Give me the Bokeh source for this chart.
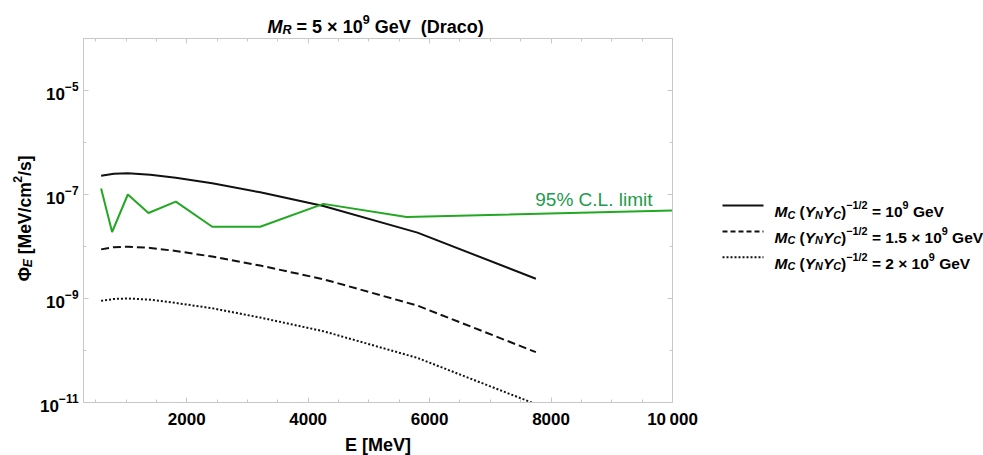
import math
from bokeh.plotting import figure
from bokeh.layouts import row, column
from bokeh.models import Label, FixedTicker, LogAxis, LinearAxis, Range1d
from bokeh.core.properties import value
from bokeh.embed import file_html
from bokeh.resources import INLINE

# ---------------- data ----------------
E_model = [590, 800, 1030, 1400, 1820, 2420, 3210, 4250, 5800, 7750]
flux_mc_1e9 = [2.3e-7, 2.5e-7, 2.55e-7, 2.4e-7, 2.1e-7, 1.65e-7, 1.1e-7, 6.0e-8, 1.85e-8, 2.4e-9]
flux_mc_15e9 = [8.8e-9, 9.7e-9, 9.9e-9, 9.4e-9, 8.2e-9, 6.4e-9, 4.3e-9, 2.35e-9, 7.3e-10, 9.3e-11]
flux_mc_2e9 = [9.0e-10, 9.8e-10, 1.0e-9, 9.5e-10, 8.2e-10, 6.5e-10, 4.3e-10, 2.35e-10, 7.2e-11, 9.3e-12]

E_limit = [590, 771, 1030, 1370, 1820, 2420, 3210, 4250, 5620, 10000]
flux_limit = [1.3e-7, 1.9e-8, 1.0e-7, 4.4e-8, 7.3e-8, 2.4e-8, 2.4e-8, 6.6e-8, 3.7e-8, 4.9e-8]

x_major = [2000, 4000, 6000, 8000, 10000]
x_major_labels = ["2000", "4000", "6000", "8000", "10\u2009000"]
x_minor = [500, 1000, 1500, 2500, 3000, 3500, 4500, 5000, 5500, 6500, 7000, 7500, 8500, 9000, 9500]
y_major = [1e-11, 1e-9, 1e-7, 1e-5]
y_minor = [1e-10, 1e-8, 1e-6, 1e-4]

legend_values = ["10", "1.5 \u00d7 10", "2 \u00d7 10"]

# ---------------- layout constants ----------------
TOTAL_W, TOTAL_H = 983, 455
TITLE_H = 37
YLAB_W = 36
LEG_W = 283
FL, FT, FW, FH = 83, 38, 589, 364          # frame in canvas pixels
FB = FT + FH
MAIN_W = TOTAL_W - YLAB_W - LEG_W
MAIN_H = TOTAL_H - TITLE_H
BORDER_TOP = FT - TITLE_H
BORDER_BOTTOM = TOTAL_H - FB
FONT = "Liberation Sans"
FRAME = "#c8c8c8"
BLACK = "#111111"
GREEN_LINE = "#22a822"
GREEN_TEXT = "#1f9a4c"

# ---------------- main plot ----------------
p = figure(frame_width=FW, frame_height=FH, output_backend="svg", toolbar_location=None,
           x_range=Range1d(300, 10000), y_range=Range1d(1e-11, 1e-4),
           y_axis_type="log", x_axis_type=None,
           min_border_left=FL - YLAB_W, min_border_top=BORDER_TOP,
           min_border_right=MAIN_W - (FL - YLAB_W) - FW,
           min_border_bottom=BORDER_BOTTOM)
p.grid.visible = False
p.outline_line_color = FRAME
p.background_fill_color = "white"
p.border_fill_color = "white"

xb = LinearAxis(ticker=FixedTicker(ticks=x_major, minor_ticks=x_minor))
xb.major_label_overrides = {v: s for v, s in zip(x_major, x_major_labels)}
xb.axis_label = "E [MeV]"
p.add_layout(xb, "below")
xt = LinearAxis(ticker=FixedTicker(ticks=x_major, minor_ticks=x_minor))
p.add_layout(xt, "above")
yl = p.yaxis[0]
yl.ticker = FixedTicker(ticks=y_major, minor_ticks=y_minor)
yr = LogAxis(ticker=FixedTicker(ticks=y_major, minor_ticks=y_minor))
p.add_layout(yr, "right")

for ax in [xb, xt, yl, yr]:
    ax.axis_line_color = FRAME
    ax.major_tick_line_color = FRAME
    ax.minor_tick_line_color = FRAME
    ax.major_tick_in = 5
    ax.major_tick_out = 0
    ax.minor_tick_in = 3
    ax.minor_tick_out = 0
    ax.major_label_text_font = FONT
    ax.major_label_text_font_style = "bold"
    ax.major_label_text_color = "black"
    ax.major_label_text_font_size = "17px"
for ax in [xt, yr]:
    ax.major_label_text_color = None
    ax.major_label_text_font_size = "1px"
    ax.major_label_standoff = 0
xb.major_label_standoff = 7
yl.major_label_standoff = 5
xb.axis_label_text_font = FONT
xb.axis_label_text_font_style = "bold"
xb.axis_label_text_font_size = "18px"
xb.axis_label_text_color = "black"
xb.axis_label_standoff = 3

p.line(E_model, flux_mc_1e9, line_color=BLACK, line_width=2)
p.line(E_model, flux_mc_15e9, line_color=BLACK, line_width=2, line_dash="8 4")
p.line(E_model, flux_mc_2e9, line_color=BLACK, line_width=2, line_dash="2 2")
p.line(E_limit, flux_limit, line_color=GREEN_LINE, line_width=2)

p.add_layout(Label(x=652 - FL, y=FB - 199, x_units="screen", y_units="screen",
                   text="95% C.L. limit", text_font=FONT, text_font_size="19px",
                   text_color=GREEN_TEXT, text_align="right", text_baseline="alphabetic"))


# ---------------- helper figures whose data space equals canvas pixels ----------------
def pixel_fig(x0, w, h, y_top, y_bottom, b_top, b_bottom):
    f = figure(width=w, height=h, x_range=Range1d(x0, x0 + w), y_range=Range1d(y_bottom, y_top),
               x_axis_type=None, y_axis_type=None, toolbar_location=None,
               min_border_left=0, min_border_right=0, min_border_top=b_top,
               min_border_bottom=b_bottom, output_backend="svg")
    f.outline_line_color = None
    f.background_fill_color = "white"
    f.border_fill_color = "white"
    return f


W = {" ": 278, "(": 333, ")": 333, "[": 333, "]": 333, "/": 278, ".": 278, "%": 889,
     "=": 584, "\u00d7": 584, "\u2212": 584, "-": 333, "M": 833, "C": 722, "Y": 667,
     "N": 722, "G": 778, "V": 667, "E": 667, "R": 722, "D": 722, "L": 611, "e": 556,
     "r": 389, "a": 556, "c": 556, "o": 611, "i": 278, "m": 889, "t": 333, "l": 278,
     "s": 556, "\u03a6": 800}


def twidth(s, size):
    return sum(W.get(ch, 556) for ch in s) * size / 1000.0


def rich(f, pieces, cx, cy, size, angle=0.0, color="black", sub_shift=0.2):
    al = (math.cos(angle), -math.sin(angle))
    up = (-math.sin(angle), -math.cos(angle))
    pos = 0.0
    for txt, kind in pieces:
        s = size
        shift = 0.0
        style = "bold italic" if "i" in kind else "bold"
        if "sub" in kind:
            s = size * 0.7
            shift = -sub_shift * size
        if "sup" in kind:
            s = size * 0.7
            shift = 0.42 * size
        core = txt.strip(" ")
        lead = len(txt) - len(txt.lstrip(" "))
        trail = len(txt) - len(txt.rstrip(" "))
        pos += lead * W[" "] * s / 1000.0
        if core:
            x = cx + al[0] * pos + up[0] * shift
            y = cy + al[1] * pos + up[1] * shift
            f.text(x=[x], y=[y], text=[core], angle=angle, text_font=value(FONT),
                   text_font_style=style, text_font_size=value(f"{s:.1f}px"),
                   text_color=color, text_baseline="alphabetic", text_align="left")
            pos += twidth(core, s)
        pos += trail * W[" "] * s / 1000.0


# title strip
tf = pixel_fig(0, TOTAL_W, TITLE_H, 0, TITLE_H, 0, 0)
rich(tf, [("M", "i"), ("R", "isub"), (" = 5 \u00d7 10", "b"), ("9", "sup"),
          (" GeV ", "b"), (" (Draco)", "b")], 267, 26.5, 18, sub_shift=0.17)

# y-axis label strip (frame spans canvas rows FT..FB)
yf = pixel_fig(0, YLAB_W, MAIN_H, FT, FB, BORDER_TOP, BORDER_BOTTOM)
rich(yf, [("\u03a6", "b"), ("E", "isub"), (" [MeV/cm", "b"), ("2", "sup"), ("/s]", "b")],
     24, 282, 17.5, angle=math.pi / 2)

# legend strip
lf = pixel_fig(TOTAL_W - LEG_W, LEG_W, MAIN_H, FT, FB, BORDER_TOP, BORDER_BOTTOM)
dashes = ["solid", "5 3", "2 2"]
row_y = [206, 232, 258]
for dash, val, ly in zip(dashes, legend_values, row_y):
    lf.line(x=[722, 763], y=[ly, ly], line_color=BLACK, line_width=2, line_dash=dash)
    pieces = [("M", "i"), ("C", "isub"), (" (", "b"), ("Y", "i"), ("N", "isub"), ("Y", "i"),
              ("C", "isub"), (")", "b"), ("\u22121/2", "sup"), (" = ", "b"),
              (val, "b"), ("9", "sup"), (" GeV", "b")]
    rich(lf, pieces, 774, ly + 6, 15.5)

layout = column(tf, row(yf, p, lf))
open("out.html", "w").write(file_html(layout, INLINE))
